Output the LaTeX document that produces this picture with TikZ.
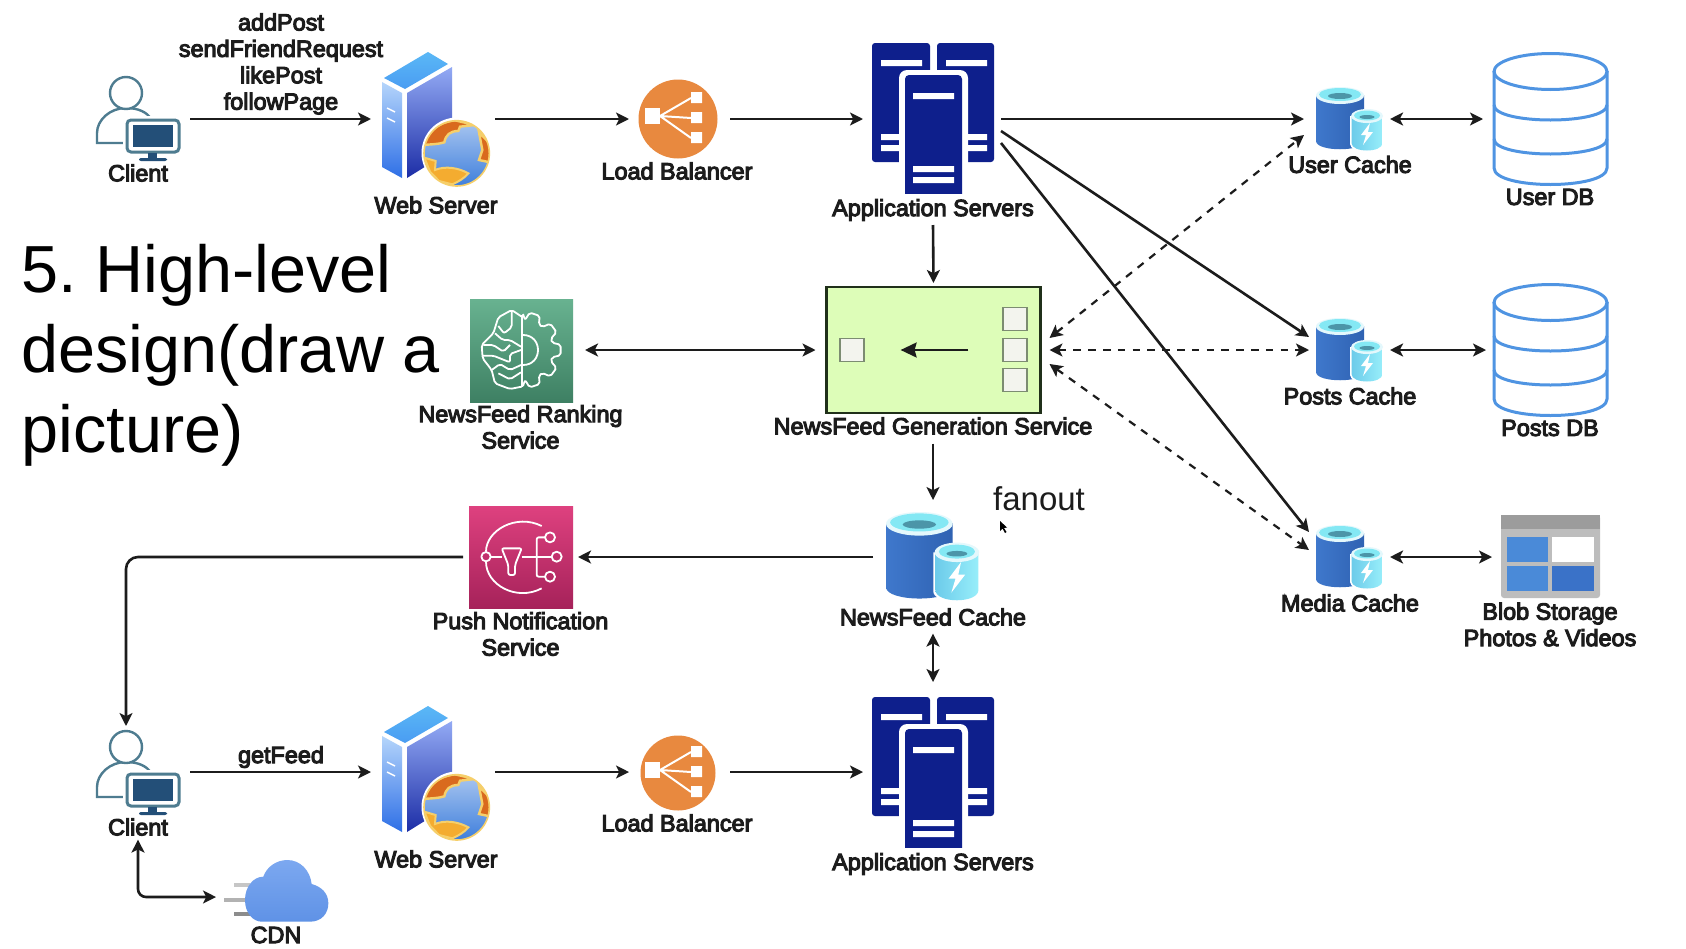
\documentclass[tikz,border=0pt]{standalone}
\usepackage{fontspec}
\setmainfont{Liberation Sans}
\newfontfamily\lblfam[FakeBold=4.5]{Liberation Sans}
\usetikzlibrary{arrows.meta,calc}
\definecolor{ink}{HTML}{1C1C1C}
\definecolor{navy}{HTML}{0E1F8C}
\definecolor{dbblue}{HTML}{4F94E2}
\definecolor{teal}{HTML}{4E7C90}
\definecolor{screen}{HTML}{234F78}
\definecolor{lborange}{HTML}{E8893F}
\definecolor{nfggreen}{HTML}{DDFDB8}
\definecolor{nfgline}{HTML}{20301A}
\definecolor{boxfill}{HTML}{F3F4EE}
\definecolor{boxline}{HTML}{7C8C72}
\definecolor{topface}{HTML}{5AB8F6}
\definecolor{topfaceb}{HTML}{4A9CF2}
\definecolor{leftt}{HTML}{B5D5FB}
\definecolor{leftb}{HTML}{2E6FE6}
\definecolor{rightt}{HTML}{93AAF4}
\definecolor{rightb}{HTML}{1C2DA6}
\definecolor{oceant}{HTML}{A9C6F0}
\definecolor{oceanb}{HTML}{3F7FDC}
\definecolor{landdark}{HTML}{D96A1E}
\definecolor{landlight}{HTML}{F4AC30}
\definecolor{landedge}{HTML}{F6CF6A}
\definecolor{cachel}{HTML}{3F78CC}
\definecolor{cacher}{HTML}{2F62B2}
\definecolor{cacherim}{HTML}{E4F8FC}
\definecolor{cachein}{HTML}{84E8F4}
\definecolor{cachehole}{HTML}{4C95A8}
\definecolor{smalll}{HTML}{6CCBEA}
\definecolor{smallr}{HTML}{98EEFA}
\definecolor{ranktop}{HTML}{68B290}
\definecolor{rankbot}{HTML}{3E8063}
\definecolor{pushtop}{HTML}{DE417F}
\definecolor{pushbot}{HTML}{A6225A}
\definecolor{blobbody}{HTML}{BDBDBD}
\definecolor{blobbar}{HTML}{9C9C9C}
\definecolor{paneA}{HTML}{4A8AD8}
\definecolor{paneB}{HTML}{3A72C8}
\definecolor{cloudt}{HTML}{7CA8F0}
\definecolor{cloudb}{HTML}{5F92E6}
\tikzset{
  x=0.5pt,y=-0.5pt,
  lbl/.style={font=\lblfam\fontsize{11.7}{13.2}\selectfont,text=ink,inner sep=0pt,outer sep=0pt,align=center},
  hit/.style 2 args={inner sep=0pt,outer sep=0pt,minimum width=#1*0.5pt,minimum height=#2*0.5pt},
  arr/.style={draw=ink,line width=1.3pt,-{Stealth[length=6.5pt,width=6.5pt,inset=1.6pt]}},
  arrb/.style={draw=ink,line width=1.3pt,{Stealth[length=6.5pt,width=6.5pt,inset=1.6pt]}-{Stealth[length=6.5pt,width=6.5pt,inset=1.6pt]}},
  dsh/.style={dash pattern=on 3.8pt off 3.6pt,line width=1.1pt},
  dbline/.style={draw=dbblue,line width=1.5pt},
  glyph/.style={draw=white,line width=0.9pt,line join=round,rounded corners=1pt},
  smallbox/.style={draw=boxline,fill=boxfill,line width=0.8pt,inner sep=0pt,minimum width=11.8pt,minimum height=11.6pt},
}
\newcommand{\iconClient}{%
  \draw[teal,line width=1.2pt,fill=white] (97,143) -- (97,133) .. controls (97,120) and (110,108) .. (126,108) .. controls (138,108) and (147,112) .. (151,119) -- (151,143) -- cycle;
  \draw[teal,line width=1.2pt,fill=white] (126,93) circle [radius=16];
  \fill[white] (123,116) rectangle (183,156);
  \draw[teal,line width=1.5pt,fill=white,rounded corners=2pt] (127,120) rectangle (179,152);
  \fill[screen] (133,125) rectangle (173,147);
  \fill[screen] (148,153) rectangle (157,159);
  \fill[screen,rounded corners=1pt] (139,158) rectangle (167,161);
}
\newcommand{\iconWeb}{%
  \shade[top color=topface,bottom color=topfaceb] (384,78) -- (428,52) -- (448,64) -- (405,89) -- cycle;
  \shade[top color=leftt,bottom color=leftb] (382,82) -- (402,93) -- (402,178) -- (382,167) -- cycle;
  \shade[top color=rightt,bottom color=rightb] (407,93) -- (452,67) -- (452,150) -- (407,178) -- cycle;
  \draw[white,line width=0.7pt] (387,108) -- (395,112) (387,118) -- (395,122);
  \fill[white] (457,153) circle [radius=35.5];
  \begin{scope}[shift={(375,45)},x=0.16667pt,y=-0.16667pt]
    \begin{scope}
      \clip (245,325) circle [radius=98];
      \shade[top color=oceant,bottom color=oceanb] (147,227) rectangle (343,423);
      \fill[landdark,draw=landedge,line width=1.2pt] (143,300) .. controls (155,260) and (190,232) .. (240,226) -- (300,240) -- (255,245) -- (250,258) .. controls (225,258) and (212,270) .. (208,292) .. controls (190,298) and (165,298) .. (143,300) -- cycle;
      \fill[landdark,draw=landedge,line width=1.2pt] (312,262) -- (345,295) -- (345,352) -- (312,345) -- (322,315) -- cycle;
      \fill[landlight,draw=landedge,line width=1pt] (148,338) -- (182,348) -- (180,375) .. controls (210,362) and (250,368) .. (280,385) .. controls (268,400) and (250,410) .. (232,418) -- (192,408) -- (165,380) -- cycle;
    \end{scope}
    \draw[landedge,line width=0.8pt] (245,325) circle [radius=98];
  \end{scope}
}
\newcommand{\iconLB}[1]{%
  \fill[lborange] (678,119) circle [radius=#1];
  \fill[white] (645,108) rectangle (660,124);
  \fill[white] (691,92) rectangle (702,103) (691,112) rectangle (702,123) (691,132) rectangle (702,143);
  \draw[white,line width=1pt] (660,116) -- (691,98) (660,116) -- (691,118) (660,116) -- (691,138);
}
\newcommand{\iconApp}{%
  \fill[navy,rounded corners=1.5pt] (872,43) rectangle (930,162);
  \fill[navy,rounded corners=1.5pt] (937,43) rectangle (994,162);
  \fill[white] (881,60) rectangle (922,66) (946,60) rectangle (987,66);
  \fill[white] (881,134) rectangle (900,140) (881,145) rectangle (900,151);
  \fill[white] (967,134) rectangle (987,140) (967,145) rectangle (987,151);
  \fill[white,rounded corners=4pt] (899,70) rectangle (968,194);
  \fill[navy,rounded corners=2pt] (905,75) rectangle (962,200);
  \fill[white] (899,194) rectangle (968,204);
  \fill[white] (913,93) rectangle (954,99) (913,166) rectangle (954,172) (913,177) rectangle (954,183);
}
\newcommand{\iconDB}[1]{%
  \begin{scope}[shift={(0,#1)}]
    \fill[white] (1494,71) rectangle (1607,168);
    \draw[dbline] (1494,71) -- (1494,168) .. controls (1494,190) and (1607,190) .. (1607,168) -- (1607,71);
    \draw[dbline] (1550.5,71.5) ellipse [x radius=56.5,y radius=18];
    \draw[dbline] (1494,105) .. controls (1494,125) and (1607,125) .. (1607,105);
    \draw[dbline] (1494,139) .. controls (1494,159) and (1607,159) .. (1607,139);
  \end{scope}
}
\newcommand{\iconCache}[3]{%
  \begin{scope}[shift={(#1,#2)},scale=#3]
    \shade[left color=cachel,right color=cacher] (0,8) -- (0,54) .. controls (0,65) and (48,65) .. (48,54) -- (48,8) -- cycle;
    \fill[cacherim] (24,8.5) ellipse [x radius=24,y radius=8.5];
    \fill[cachein] (24,7.5) ellipse [x radius=21,y radius=6.5];
    \fill[cachehole] (24,9) ellipse [x radius=12,y radius=3];
    \fill[white] (34,29) -- (34,57) .. controls (34,67) and (68,67) .. (68,57) -- (68,29) -- cycle;
    \shade[left color=smalll,right color=smallr] (35.5,30) -- (35.5,56) .. controls (35.5,66) and (66.5,66) .. (66.5,56) -- (66.5,30) -- cycle;
    \fill[cacherim] (51,29) ellipse [x radius=16,y radius=7];
    \fill[cachein] (51,28.5) ellipse [x radius=13,y radius=5];
    \fill[cachehole] (51,30) ellipse [x radius=7.5,y radius=2];
    \fill[white] (54,36) -- (45,48) -- (50,48) -- (47,58) -- (57,45) -- (52,45) -- cycle;
  \end{scope}
}
\begin{document}
\begin{tikzpicture}
\useasboundingbox[fill=white] (0,0) rectangle (1686,948);

% title
\node[anchor=west,inner sep=0pt,align=left,font=\frenchspacing\fontsize{33.3}{40}\selectfont,text=black] (title) at (21,355) {5. High-level\\design(draw a\\picture)};

% icons, top row
\iconClient
\iconWeb
\iconLB{39.5}
\iconApp
\iconCache{1316}{87}{1}
\iconCache{1316}{318}{1}
\iconCache{1316}{525}{1}
\iconCache{886}{512}{1.39}
\iconDB{0}
\iconDB{231}

% icons, bottom row
\begin{scope}[shift={(0,654)}]
  \iconClient
  \iconWeb
  \iconLB{37.5}
  \iconApp
\end{scope}

% ranking icon
\shade[top color=ranktop,bottom color=rankbot] (470,299) rectangle (573,402);
\begin{scope}[shift={(460,290)},x=0.16667pt,y=-0.16667pt]
  \draw[glyph] (185,75) -- (185,290);
  \draw[glyph] (185,80) -- (155,60) -- (115,82) -- (100,130) -- (65,165) -- (68,205) -- (95,240) -- (105,280) -- (150,297) -- (185,290);
  \draw[glyph] (155,62) -- (155,112) -- (132,130) -- (115,108);
  \draw[glyph] (183,170) -- (150,150) -- (128,150) -- (105,130);
  \draw[glyph] (70,165) -- (100,165) -- (130,185) -- (150,165);
  \draw[glyph] (68,197) -- (100,197) -- (150,217) -- (150,192) -- (183,180);
  \draw[glyph] (95,240) -- (120,222) -- (150,240) -- (183,225);
  \draw[glyph] (115,250) -- (150,268) -- (183,247);
\end{scope}
\begin{scope}[shift={(523,350)}]
  \draw[glyph] (0,36) \foreach \a in {72,36,0,-36,-72} { -- ({\a+14}:30) -- ({\a+8}:38) -- ({\a-8}:38) -- ({\a-14}:30) } -- (0,-36);
  \draw[glyph] (0,-15) .. controls (20,-15) and (20,15) .. (0,15);
\end{scope}

% push icon
\shade[top color=pushtop,bottom color=pushbot] (469,506) rectangle (573,608);
\begin{scope}[shift={(400,280)},x=0.16667pt,y=-0.16667pt]
  \draw[glyph] (425,738) .. controls (350,700) and (258,750) .. (258,815);
  \draw[glyph] (258,845) .. controls (258,915) and (350,965) .. (425,925);
  \draw[glyph] (258,830) circle [radius=14];
  \draw[glyph] (272,830) -- (305,830);
  \draw[glyph] (305,805) -- (365,805) -- (345,855) -- (345,885) -- (325,885) -- (325,855) -- cycle;
  \draw[glyph] (365,830) -- (455,830);
  \draw[glyph] (410,830) -- (410,772) -- (435,772);
  \draw[glyph] (410,830) -- (410,890) -- (435,890);
  \draw[glyph] (450,772) circle [radius=15];
  \draw[glyph] (470,830) circle [radius=15];
  \draw[glyph] (450,890) circle [radius=15];
\end{scope}

% blob icon
\fill[blobbody,rounded corners=1.5pt] (1501,515) rectangle (1600,598);
\fill[blobbar] (1501,515) rectangle (1600,529);
\fill[paneA] (1507,537) rectangle (1548,562);
\fill[white] (1552,537) rectangle (1594,562);
\fill[paneA] (1507,566) rectangle (1548,591);
\fill[paneB] (1552,566) rectangle (1594,591);

% cloud
\begin{scope}[shift={(80,720)},x=0.16667pt,y=-0.16667pt]
  \draw[gray!45,line width=2.3pt] (462,495) -- (510,495);
  \draw[gray!60,line width=2.3pt] (432,540) -- (500,540);
  \draw[gray!90,line width=2.3pt] (462,582) -- (510,582);
  \shade[top color=cloudt,bottom color=cloudb] (545,605) -- (690,605) .. controls (725,605) and (745,580) .. (745,550) .. controls (745,520) and (725,500) .. (695,492) .. controls (690,450) and (660,420) .. (622,420) .. controls (590,420) and (560,440) .. (550,470) .. controls (520,470) and (495,500) .. (495,540) .. controls (495,580) and (520,605) .. (545,605) -- cycle;
\end{scope}

% cursor
\fill[black] (1000,521) -- (1000,531) -- (1002.5,528.5) -- (1005,533) -- (1006.5,532) -- (1004,528) -- (1007,527.5) -- cycle;

% NFG box
\node[draw=nfgline,fill=nfggreen,line width=1.4pt,inner sep=0pt,outer sep=0pt,minimum width=107pt,minimum height=63pt] (nfg) at (933.5,350) {};
\node[smallbox] (sqA) at (1015,319) {};
\node[smallbox] (sqB) at (1015,350) {};
\node[smallbox] (sqC) at (1015,380) {};
\node[smallbox] (sqL) at (852,350) {};
\draw[draw=ink,line width=1.1pt,-{Stealth[length=8pt,width=7.5pt,inset=1pt]},shorten <=17pt,shorten >=18pt] (sqB) -- (sqL);

% invisible connection regions of the icons
\node[hit={102}{92}] (client1) at (139,119) {};
\node[hit={102}{92}] (client2) at (139,772) {};
\node[hit={124}{140}] (web1) at (433,119) {};
\node[hit={124}{140}] (web2) at (433,772) {};
\node[hit={101}{76}] (lb1) at (679.5,119) {};
\node[hit={101}{76}] (lb2) at (679.5,772) {};
\node[hit={140}{212}] (app1) at (933,119) {};
\node[hit={140}{180}] (app2) at (933,772) {};
\node[hit={86}{60}] (ucache) at (1347,119) {};
\node[hit={81}{60}] (pcache) at (1349.5,350) {};
\node[hit={81}{60}] (mcache) at (1349.5,557) {};
\node[hit={120}{114}] (nfcache) at (933,557) {};
\node[hit={134}{130}] (udb) at (1550,119) {};
\node[hit={128}{130}] (pdb) at (1550,350) {};
\node[hit={116}{84}] (blob) at (1550,557) {};
\node[hit={134}{104}] (rank) at (518,350) {};
\node[hit={115}{102}] (push) at (520.5,557) {};
\node[hit={140}{60}] (cdn) at (286,897) {};

% labels
\node[lbl] (lopts) at (281,64) {addPost\\sendFriendRequest\\likePost\\followPage};
\node[lbl] (lfeed) at (281,757) {getFeed};
\node[lbl] (lc1) at (138,173) {Client};
\node[lbl] (lc2) at (138,827) {Client};
\node[lbl] (lw1) at (436,205) {Web Server};
\node[lbl] (lw2) at (436,859) {Web Server};
\node[lbl] (llb1) at (677,171) {Load Balancer};
\node[lbl] (llb2) at (677,823) {Load Balancer};
\node[lbl] (la1) at (933,210) {Application Servers};
\node[lbl] (la2) at (933,864) {Application Servers};
\node[lbl] (luc) at (1350,164.5) {User Cache};
\node[lbl] (lpc) at (1350,396) {Posts Cache};
\node[lbl] (lmc) at (1350,603) {Media Cache};
\node[lbl] (ludb) at (1550,197) {User DB};
\node[lbl] (lpdb) at (1550,428) {Posts DB};
\node[lbl] (lblob) at (1550,624.5) {Blob Storage\\Photos \& Videos};
\node[lbl] (lrank) at (520.5,427) {NewsFeed Ranking\\Service};
\node[lbl] (lnfg) at (933,426) {NewsFeed Generation Service};
\node[lbl] (lnfc) at (933,617) {NewsFeed Cache};
\node[lbl] (lpush) at (520.5,634) {Push Notification\\Service};
\node[lbl] (lcdn) at (276,935) {CDN};
\node[inner sep=0pt,font=\fontsize{16.5}{19}\selectfont,text=ink] (lfan) at (1039,499) {fanout};

% connectors, top row
\draw[arr] (client1) -- (web1);
\draw[arr] (web1) -- (lb1);
\draw[arr] (lb1) -- (app1);
\draw[arr] ([xshift=-1pt]app1.east) -- (ucache);
\draw[arr] ([xshift=-1pt,yshift=-6pt]app1.east) -- ([yshift=6.5pt]pcache.west);
\draw[arr] ([xshift=-1pt,yshift=-12pt]app1.east) -- ([yshift=12.5pt]mcache.west);
\draw[arrb] (ucache) -- (udb);
\draw[arrb] (pcache) -- (pdb);
\draw[arrb] (mcache) -- (blob);
\draw[arr] (app1.south) -- ([yshift=2pt]nfg.north);
\draw[arrb] ([xshift=-5.5pt]nfg.west) -- (rank);
\draw[arrb,dsh] ([xshift=4.5pt,yshift=6pt]nfg.east) -- ([yshift=-8pt]ucache.west);
\draw[arrb,dsh] ([xshift=4.5pt]nfg.east) -- (pcache);
\draw[arrb,dsh] ([xshift=4.5pt,yshift=-7pt]nfg.east) -- ([yshift=3.5pt]mcache.west);
\draw[arr] ([yshift=-4.5pt]lnfg.south) -- (nfcache);
\draw[arr] (nfcache) -- (push);
\draw[arr,rounded corners=6pt] (push.west) -| ([xshift=-6.5pt]client2.north);
\draw[arrb] ([yshift=-4pt]lnfc.south) -- (app2);

% connectors, bottom row
\draw[arr] (client2) -- (web2);
\draw[arr] (web2) -- (lb2);
\draw[arr] (lb2) -- (app2);
\draw[arrb,rounded corners=4pt] ([yshift=-2pt]lc2.south) |- (cdn.west);
\end{tikzpicture}
\end{document}
